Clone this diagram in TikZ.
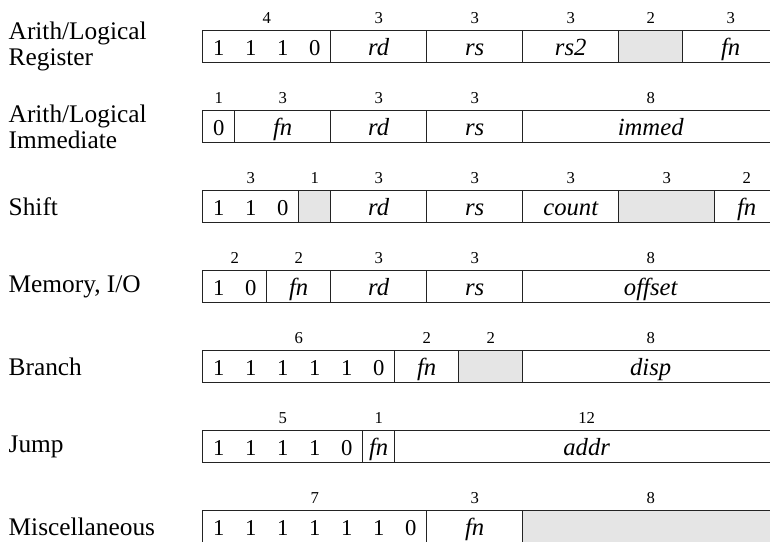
\documentclass[tikz,border=0pt]{standalone}
\usepackage{fontspec}
\setmainfont{Liberation Serif}
\usepackage{xcolor}
\usepackage{tikz}
\definecolor{rule}{RGB}{35,35,35}
\definecolor{unused}{RGB}{229,229,229}

\begin{document}
\begin{tikzpicture}[x=24pt,y=-24pt,line width=0.9pt,
    frame/.style={draw=rule},
    rowname/.style={anchor=west,align=left,inner sep=0pt,font=\fontsize{19}{19.5}\selectfont},
    bitval/.style={anchor=base,inner sep=0pt,font=\fontsize{17}{18}\selectfont},
    fieldname/.style={anchor=base,inner sep=0pt,font=\fontsize{18.5}{18}\selectfont\itshape},
    bitcount/.style={anchor=base,inner sep=0pt,font=\fontsize{12.5}{13}\selectfont}]
    % page frame (picture is cut at the right and bottom)
    \useasboundingbox (-6.334,-0.959) rectangle (17.728,15.978);
    \clip (-6.334,-0.959) rectangle (17.728,15.978);

    % Arith/Logical Register
    \node[rowname] (nm1) at (-6.08,0.5) {Arith/Logical\\Register};
    \fill[unused] (13,0) rectangle (15,1);
    \draw[frame] (0,0) rectangle (18,1);
    \draw[frame] (4,0)--(4,1) (7,0)--(7,1) (10,0)--(10,1) (13,0)--(13,1) (15,0)--(15,1);
    \foreach \b [count=\i from 0] in {1,1,1,0}
      \node[bitval] (r1b\i) at (\i+0.5,0.76) {\b};
    \node[fieldname] (r1rd) at (5.5,0.76) {rd};
    \node[fieldname] (r1rs) at (8.5,0.76) {rs};
    \node[fieldname] (r1rt) at (11.5,0.76) {rs2};
    \node[fieldname] (r1fn) at (16.5,0.76) {fn};
    \node[bitcount] (r1w1) at (2,-0.23) {4};
    \node[bitcount] (r1w2) at (5.5,-0.23) {3};
    \node[bitcount] (r1w3) at (8.5,-0.23) {3};
    \node[bitcount] (r1w4) at (11.5,-0.23) {3};
    \node[bitcount] (r1w5) at (14,-0.23) {2};
    \node[bitcount] (r1w6) at (16.5,-0.23) {3};

    % Arith/Logical Immediate
    \node[rowname] (nm2) at (-6.08,3) {Arith/Logical\\Immediate};
    \draw[frame] (0,2.5) rectangle (18,3.5);
    \draw[frame] (1,2.5)--(1,3.5) (4,2.5)--(4,3.5) (7,2.5)--(7,3.5) (10,2.5)--(10,3.5);
    \node[bitval] (r2b0) at (0.5,3.26) {0};
    \node[fieldname] (r2fn) at (2.5,3.26) {fn};
    \node[fieldname] (r2rd) at (5.5,3.26) {rd};
    \node[fieldname] (r2rs) at (8.5,3.26) {rs};
    \node[fieldname] (r2im) at (14,3.26) {immed};
    \node[bitcount] (r2w1) at (0.5,2.27) {1};
    \node[bitcount] (r2w2) at (2.5,2.27) {3};
    \node[bitcount] (r2w3) at (5.5,2.27) {3};
    \node[bitcount] (r2w4) at (8.5,2.27) {3};
    \node[bitcount] (r2w5) at (14,2.27) {8};

    % Shift
    \node[rowname] (nm3) at (-6.08,5.5) {Shift};
    \fill[unused] (3,5) rectangle (4,6);
    \fill[unused] (13,5) rectangle (16,6);
    \draw[frame] (0,5) rectangle (18,6);
    \draw[frame] (3,5)--(3,6) (4,5)--(4,6) (7,5)--(7,6) (10,5)--(10,6) (13,5)--(13,6) (16,5)--(16,6);
    \foreach \b [count=\i from 0] in {1,1,0}
      \node[bitval] (r3b\i) at (\i+0.5,5.76) {\b};
    \node[fieldname] (r3rd) at (5.5,5.76) {rd};
    \node[fieldname] (r3rs) at (8.5,5.76) {rs};
    \node[fieldname] (r3ct) at (11.5,5.76) {count};
    \node[fieldname] (r3fn) at (17,5.76) {fn};
    \node[bitcount] (r3w1) at (1.5,4.77) {3};
    \node[bitcount] (r3w2) at (3.5,4.77) {1};
    \node[bitcount] (r3w3) at (5.5,4.77) {3};
    \node[bitcount] (r3w4) at (8.5,4.77) {3};
    \node[bitcount] (r3w5) at (11.5,4.77) {3};
    \node[bitcount] (r3w6) at (14.5,4.77) {3};
    \node[bitcount] (r3w7) at (17,4.77) {2};

    % Memory, I/O
    \node[rowname] (nm4) at (-6.08,8) {Memory, I/O};
    \draw[frame] (0,7.5) rectangle (18,8.5);
    \draw[frame] (2,7.5)--(2,8.5) (4,7.5)--(4,8.5) (7,7.5)--(7,8.5) (10,7.5)--(10,8.5);
    \foreach \b [count=\i from 0] in {1,0}
      \node[bitval] (r4b\i) at (\i+0.5,8.26) {\b};
    \node[fieldname] (r4fn) at (3,8.26) {fn};
    \node[fieldname] (r4rd) at (5.5,8.26) {rd};
    \node[fieldname] (r4rs) at (8.5,8.26) {rs};
    \node[fieldname] (r4of) at (14,8.26) {offset};
    \node[bitcount] (r4w1) at (1,7.27) {2};
    \node[bitcount] (r4w2) at (3,7.27) {2};
    \node[bitcount] (r4w3) at (5.5,7.27) {3};
    \node[bitcount] (r4w4) at (8.5,7.27) {3};
    \node[bitcount] (r4w5) at (14,7.27) {8};

    % Branch
    \node[rowname] (nm5) at (-6.08,10.5) {Branch};
    \fill[unused] (8,10) rectangle (10,11);
    \draw[frame] (0,10) rectangle (18,11);
    \draw[frame] (6,10)--(6,11) (8,10)--(8,11) (10,10)--(10,11);
    \foreach \b [count=\i from 0] in {1,1,1,1,1,0}
      \node[bitval] (r5b\i) at (\i+0.5,10.76) {\b};
    \node[fieldname] (r5fn) at (7,10.76) {fn};
    \node[fieldname] (r5dp) at (14,10.76) {disp};
    \node[bitcount] (r5w1) at (3,9.77) {6};
    \node[bitcount] (r5w2) at (7,9.77) {2};
    \node[bitcount] (r5w3) at (9,9.77) {2};
    \node[bitcount] (r5w4) at (14,9.77) {8};

    % Jump
    \node[rowname] (nm6) at (-6.08,13) {Jump};
    \draw[frame] (0,12.5) rectangle (18,13.5);
    \draw[frame] (5,12.5)--(5,13.5) (6,12.5)--(6,13.5);
    \foreach \b [count=\i from 0] in {1,1,1,1,0}
      \node[bitval] (r6b\i) at (\i+0.5,13.26) {\b};
    \node[fieldname] (r6fn) at (5.5,13.26) {fn};
    \node[fieldname] (r6ad) at (12,13.26) {addr};
    \node[bitcount] (r6w1) at (2.5,12.27) {5};
    \node[bitcount] (r6w2) at (5.5,12.27) {1};
    \node[bitcount] (r6w3) at (12,12.27) {12};

    % Miscellaneous
    \node[rowname] (nm7) at (-6.08,15.5) {Miscellaneous};
    \fill[unused] (10,15) rectangle (18,16);
    \draw[frame] (0,15) rectangle (18,16);
    \draw[frame] (7,15)--(7,16) (10,15)--(10,16);
    \foreach \b [count=\i from 0] in {1,1,1,1,1,1,0}
      \node[bitval] (r7b\i) at (\i+0.5,15.76) {\b};
    \node[fieldname] (r7fn) at (8.5,15.76) {fn};
    \node[bitcount] (r7w1) at (3.5,14.77) {7};
    \node[bitcount] (r7w2) at (8.5,14.77) {3};
    \node[bitcount] (r7w3) at (14,14.77) {8};
\end{tikzpicture}
\end{document}
